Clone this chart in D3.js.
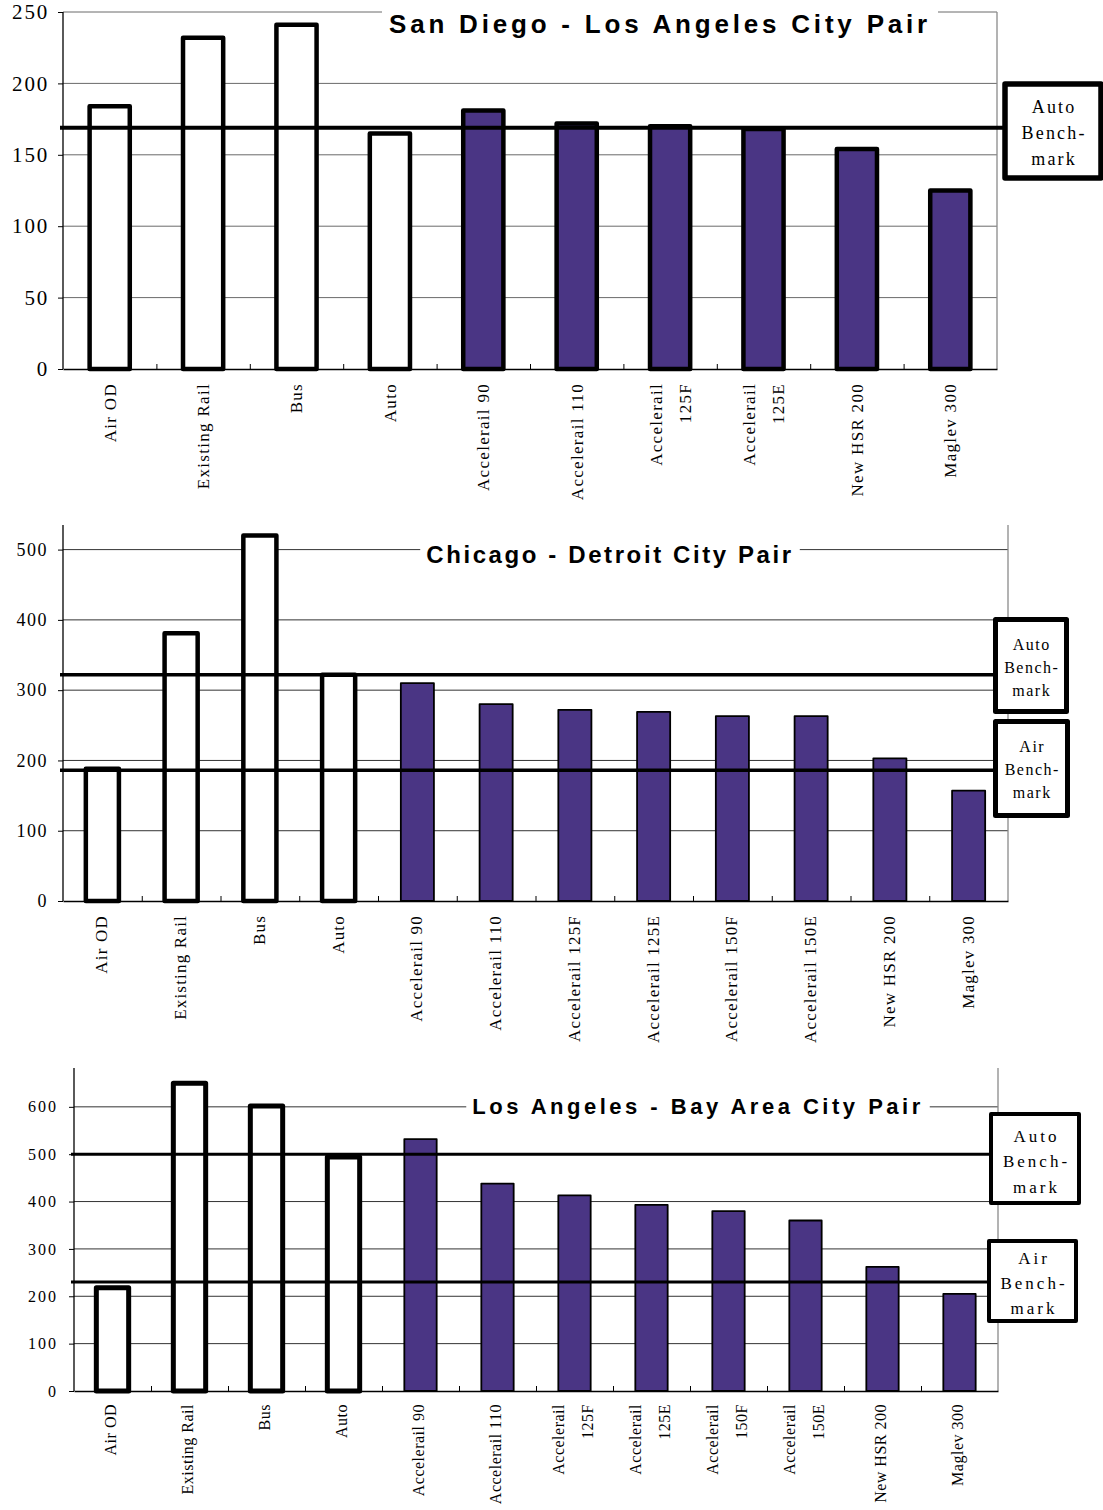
<!DOCTYPE html>
<html>
<head>
<meta charset="utf-8">
<script src="https://cdn.jsdelivr.net/npm/d3@7"></script>
<style>
  body { margin: 0; background: #fff; }
  svg { display: block; }
</style>
</head>
<body>
<div id="chart"></div>
<script>
// --- data ---
var sdCategories = ["Air OD", "Existing Rail", "Bus", "Auto", "Accelerail 90", "Accelerail 110",
                    "Accelerail\n125F", "Accelerail\n125E", "New HSR 200", "Maglev 300"];
var sdValues = [184, 232, 241, 165, 181, 172, 170, 168, 154, 125];
var sdTicks = [0, 50, 100, 150, 200, 250];
var sdAutoBench = 169;

var chiCategories = ["Air OD", "Existing Rail", "Bus", "Auto", "Accelerail 90", "Accelerail 110",
                     "Accelerail 125F", "Accelerail 125E", "Accelerail 150F", "Accelerail 150E",
                     "New HSR 200", "Maglev 300"];
var chiValues = [188, 381, 520, 322, 310, 280, 272, 269, 263, 263, 203, 157];
var chiTicks = [0, 100, 200, 300, 400, 500];
var chiAutoBench = 322;
var chiAirBench = 186;

var laCategories = ["Air OD", "Existing Rail", "Bus", "Auto", "Accelerail 90", "Accelerail 110",
                    "Accelerail\n125F", "Accelerail\n125E", "Accelerail\n150F", "Accelerail\n150E",
                    "New HSR 200", "Maglev 300"];
var laValues = [218, 650, 602, 494, 532, 438, 413, 393, 380, 360, 262, 205];
var laTicks = [0, 100, 200, 300, 400, 500, 600];
var laAutoBench = 500;
var laAirBench = 230;

var existingModes = ["Air OD", "Existing Rail", "Bus", "Auto"];

var purple = "#4a3584";
var serif = "'Liberation Serif', 'Times New Roman', serif";
var sans = "'Liberation Sans', Arial, sans-serif";

var svg = d3.select("#chart").append("svg")
  .attr("width", 1103)
  .attr("height", 1510);

// one panel
function drawPanel(o) {
  var g = svg.append("g");
  var x = d3.scaleBand().domain(o.categories).range([o.left, o.right]).paddingInner(o.pad).paddingOuter(o.pad / 2);
  var y = d3.scaleLinear().domain([0, o.ymax]).range([o.bottom, o.top]);
  var bw = x.bandwidth();

  // gridlines
  g.selectAll(".grid").data(o.ticks.filter(function(d){ return d > 0; }))
    .enter().append("line")
    .attr("x1", o.left).attr("x2", o.right)
    .attr("y1", function(d){ return y(d); }).attr("y2", function(d){ return y(d); })
    .attr("stroke", o.gridColor).attr("stroke-width", 1);

  // right border
  g.append("line")
    .attr("x1", o.right).attr("x2", o.right)
    .attr("y1", o.top).attr("y2", o.bottom)
    .attr("stroke", "#8a8a8a").attr("stroke-width", 1.3);

  // title with white background (drawn behind the bars)
  var tg = g.append("g");
  var tt = tg.append("text")
    .attr("x", o.titleX).attr("y", o.titleY)
    .attr("dy", "0.35em")
    .attr("text-anchor", "middle")
    .attr("font-family", sans)
    .attr("font-weight", "bold")
    .attr("font-size", o.titleFont)
    .attr("letter-spacing", o.titleSpacing)
    .text(o.title);
  var bb = tt.node().getBBox();
  tg.insert("rect", "text")
    .attr("x", bb.x - o.titleGap).attr("y", bb.y - 2)
    .attr("width", bb.width + o.titleGap * 2).attr("height", bb.height + 4)
    .attr("fill", "#fff");

  // bars
  g.selectAll(".bar").data(o.values)
    .enter().append("rect")
    .attr("x", function(d, i){ return x(o.categories[i]); })
    .attr("y", function(d){ return y(d); })
    .attr("width", bw)
    .attr("height", function(d){ return y(0) - y(d); })
    .attr("fill", function(d, i){ return existingModes.indexOf(o.categories[i]) >= 0 ? "#fff" : purple; })
    .attr("stroke", "#000")
    .attr("stroke-linejoin", "round")
    .attr("stroke-width", function(d, i){
      return existingModes.indexOf(o.categories[i]) >= 0 ? o.whiteStroke : o.purpleStroke;
    });

  // benchmark lines + boxes
  o.benches.forEach(function(b) {
    g.append("line")
      .attr("x1", o.left - 3).attr("x2", b.box[0])
      .attr("y1", y(b.value)).attr("y2", y(b.value))
      .attr("stroke", "#000").attr("stroke-width", o.benchWidth);
    g.append("rect")
      .attr("x", b.box[0]).attr("y", b.box[1])
      .attr("width", b.box[2]).attr("height", b.box[3])
      .attr("fill", "#fff").attr("stroke", "#000")
      .attr("stroke-width", o.boxStroke).attr("stroke-linejoin", "round");
    var t = g.append("text")
      .attr("text-anchor", "middle")
      .attr("font-family", serif)
      .attr("font-size", o.boxFont)
      .attr("letter-spacing", o.boxSpacing);
    b.lines.forEach(function(l, k) {
      t.append("tspan")
        .attr("x", b.box[0] + b.box[2] / 2 + o.boxSpacing / 2)
        .attr("y", b.textY[k])
        .attr("dy", "0.35em")
        .text(l);
    });
  });

  // y axis
  var ya = g.append("g")
    .attr("transform", "translate(" + o.left + ",0)")
    .call(d3.axisLeft(y).tickValues(o.ticks).tickSize(5).tickPadding(o.yPad).tickFormat(d3.format("d")));
  ya.select(".domain").attr("d", "M0," + o.top + "V" + o.bottom).attr("stroke-width", 1.3);
  ya.selectAll("text")
    .attr("font-family", serif)
    .attr("font-size", o.yFont)
    .attr("letter-spacing", o.ySpacing)
    .attr("fill", "#000");

  // x axis with inner ticks between categories
  var xt = d3.scaleLinear().domain([0, o.categories.length]).range([o.left, o.right]);
  var xa = g.append("g")
    .attr("transform", "translate(0," + o.bottom + ")")
    .call(d3.axisBottom(xt).tickValues(d3.range(1, o.categories.length)).tickSize(-5).tickSizeOuter(0).tickFormat(""));
  xa.select(".domain").attr("stroke-width", 1.6);

  // category labels (rotated)
  var lab = g.selectAll(".xl").data(o.categories)
    .enter().append("text")
    .attr("transform", function(d){
      return "translate(" + (x(d) + bw / 2 + o.labelShift) + "," + (o.bottom + o.labelGap) + ") rotate(-90)";
    })
    .attr("text-anchor", "end")
    .attr("font-family", serif)
    .attr("font-size", o.xFont)
    .attr("letter-spacing", o.xSpacing);
  lab.each(function(d) {
    var parts = d.split("\n");
    var sel = d3.select(this);
    parts.forEach(function(p, k) {
      var off = (k - (parts.length - 1) / 2) * o.lineGap;
      sel.append("tspan")
        .attr("x", 0)
        .attr("y", off)
        .attr("dy", "0.35em")
        .text(p);
    });
  });
}

drawPanel({
  categories: sdCategories, values: sdValues, ticks: sdTicks, ymax: 250,
  left: 63, right: 997, top: 12, bottom: 369, pad: 0.57,
  gridColor: "#6a6a6a", whiteStroke: 4.5, purpleStroke: 4.5,
  benchWidth: 4, boxStroke: 5.5, boxFont: 18, boxSpacing: 2.2,
  benches: [{ value: sdAutoBench, box: [1005, 84, 96, 94], lines: ["Auto", "Bench-", "mark"], textY: [107, 133, 159] }],
  yFont: 21, ySpacing: 1.8, yPad: 9,
  xFont: 17, xSpacing: 1.3, labelGap: 14, lineGap: 29, labelShift: 0,
  title: "San Diego - Los Angeles City Pair", titleX: 660, titleY: 24, titleFont: 26, titleSpacing: 3.8, titleGap: 7
});

drawPanel({
  categories: chiCategories, values: chiValues, ticks: chiTicks, ymax: 535,
  left: 63, right: 1008, top: 525, bottom: 901, pad: 0.58,
  gridColor: "#333", whiteStroke: 4.5, purpleStroke: 1.8,
  benchWidth: 3.5, boxStroke: 5, boxFont: 16, boxSpacing: 1.5,
  benches: [
    { value: chiAutoBench, box: [995.5, 619.5, 71, 92], lines: ["Auto", "Bench-", "mark"], textY: [644, 667, 690] },
    { value: chiAirBench, box: [995.5, 721.5, 72, 94], lines: ["Air", "Bench-", "mark"], textY: [746, 769, 792] }
  ],
  yFont: 18, ySpacing: 1.5, yPad: 10,
  xFont: 17, xSpacing: 1.2, labelGap: 14, lineGap: 29, labelShift: -1,
  title: "Chicago - Detroit City Pair", titleX: 610, titleY: 555, titleFont: 24, titleSpacing: 2.6, titleGap: 6
});

drawPanel({
  categories: laCategories, values: laValues, ticks: laTicks, ymax: 682,
  left: 74, right: 998, top: 1068, bottom: 1391, pad: 0.58,
  gridColor: "#333", whiteStroke: 5, purpleStroke: 1.8,
  benchWidth: 3, boxStroke: 4, boxFont: 17, boxSpacing: 3,
  benches: [
    { value: laAutoBench, box: [991, 1114, 88, 89], lines: ["Auto", "Bench-", "mark"], textY: [1136, 1161, 1187] },
    { value: laAirBench, box: [989, 1241, 87, 80], lines: ["Air", "Bench-", "mark"], textY: [1258, 1283, 1308] }
  ],
  yFont: 16, ySpacing: 2, yPad: 11,
  xFont: 16, xSpacing: 0.5, labelGap: 13, lineGap: 29, labelShift: -2,
  title: "Los Angeles - Bay Area City Pair", titleX: 698, titleY: 1106, titleFont: 22, titleSpacing: 3.5, titleGap: 6
});
</script>
</body>
</html>
